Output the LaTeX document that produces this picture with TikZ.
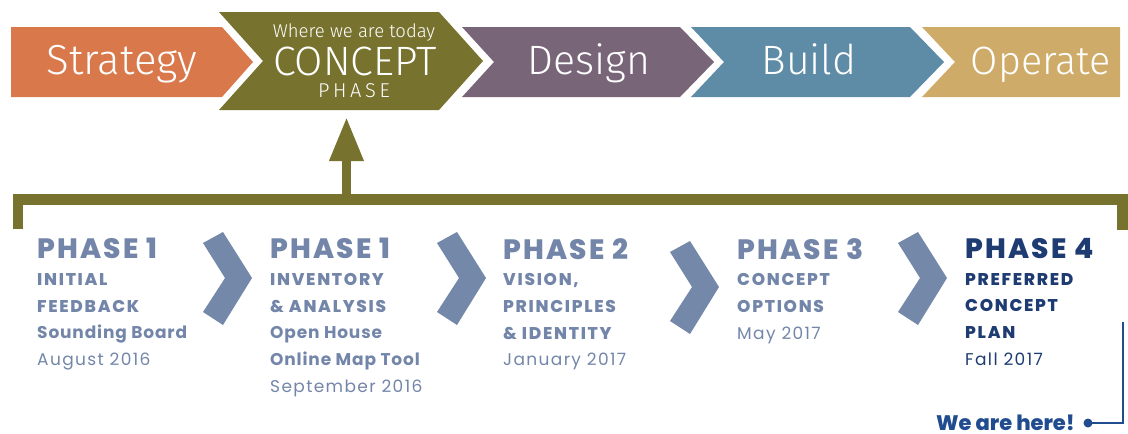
\documentclass[tikz,border=0pt]{standalone}
\usepackage{fontspec}
\setmainfont{Poppins}
\newfontfamily\thinfont{Fira Sans Light}
\newfontfamily\heavyfont{Poppins ExtraBold}
\newfontfamily\boldfont{Poppins Bold}
\newfontfamily\datefont{Poppins}
\usetikzlibrary{arrows.meta}
\definecolor{stratorange}{HTML}{D9784B}
\definecolor{conceptolive}{HTML}{78722F}
\definecolor{designpurple}{HTML}{786678}
\definecolor{buildblue}{HTML}{5E8CA7}
\definecolor{operatetan}{HTML}{CFAB69}
\definecolor{chevblue}{HTML}{7488AA}
\definecolor{phaseblue}{HTML}{7386A9}
\definecolor{phasenavy}{HTML}{1E3C72}
\definecolor{herenavy}{HTML}{214C8F}
\newcommand\phasehead[1]{{\heavyfont\fontsize{28}{28}\selectfont\addfontfeatures{LetterSpace=8}#1}}
\newcommand\capline[1]{{\heavyfont\addfontfeatures{LetterSpace=10}#1}}
\newcommand\boldline[1]{{\boldfont\addfontfeatures{LetterSpace=5}#1}}
\newcommand\dateline[1]{{\datefont\addfontfeatures{LetterSpace=8}#1}}
\begin{document}
\begin{tikzpicture}[x=1pt,y=-1pt,
  banner/.style={anchor=base,inner sep=0pt,text=white,font=\thinfont\fontsize{41}{41}\selectfont},
  phasecol/.style={anchor=north west,align=left,inner sep=0pt,text=phaseblue,font=\fontsize{17}{26.7}\selectfont},
  chev/.style={fill=chevblue}]
\useasboundingbox (0,0) rectangle (1128,434);
% top banner
\fill[stratorange] (11,27) -- (222,27) -- (253,62) -- (222,97) -- (11,97) -- cycle;
\fill[conceptolive] (219,12) -- (439,12) -- (483,61) -- (439,110) -- (219,110) -- (263,61) -- cycle;
\fill[designpurple] (462,27) -- (680,27) -- (714,62) -- (680,97) -- (462,97) -- (494,62) -- cycle;
\fill[buildblue] (691,27) -- (910,27) -- (944,62) -- (910,97) -- (691,97) -- (724,62) -- cycle;
\fill[operatetan] (922,27) -- (1120,27) -- (1120,97) -- (922,97) -- (955,62) -- cycle;
\node[banner,font=\thinfont\fontsize{42}{42}\selectfont] (strat) at (122,74) {Strategy};
\node[banner,font=\thinfont\fontsize{18.5}{18.5}\selectfont] (today) at (354,37) {Where we are today};
\node[banner] (concept) at (355,75) {CONCEPT};
\node[banner,font=\thinfont\fontsize{20}{20}\selectfont\addfontfeatures{LetterSpace=18}] (conphase) at (354,97) {PHASE};
\node[banner] (design) at (589,74) {Design};
\node[banner] (build) at (809,74) {Build};
\node[banner,font=\thinfont\fontsize{39.5}{39.5}\selectfont] (operate) at (1041,74) {Operate};
% bracket and arrow up to the concept phase
\coordinate (bktop) at (346.5,199.5);
\coordinate (cbot) at (346.5,110);
\draw[conceptolive, line width=10.5] (18,229) -- (18,199.5) -- (1122.5,199.5) -- (1122.5,230);
\draw[conceptolive, line width=9.5, -{Triangle[width=32pt,length=44pt]}, shorten >=7pt] (bktop) -- (cbot);
% chevrons between phases
\foreach \dx/\dy in {0/0, 234/0, 467/9, 695/0}
  \fill[chev, shift={(\dx,\dy)}] (203,243) -- (223,232) -- (252,278) -- (223,325) -- (203,312) -- (225,278) -- cycle;
% phases
\node[phasecol] (ph1) at (37,238) {\phasehead{PHASE 1}\\\capline{INITIAL}\\\capline{FEEDBACK}\\\boldline{Sounding Board}\\\dateline{August 2016}};
\node[phasecol] (ph1b) at (270,238) {\phasehead{PHASE 1}\\\capline{INVENTORY}\\\capline{\& ANALYSIS}\\\boldline{Open House}\\\boldline{Online Map Tool}\\\dateline{September 2016}};
\node[phasecol] (ph2) at (503,238) {\phasehead{PHASE 2}\\\capline{VISION,}\\\capline{PRINCIPLES}\\\capline{\& IDENTITY}\\\dateline{January 2017}};
\node[phasecol] (ph3) at (737,238) {\phasehead{PHASE 3}\\\capline{CONCEPT}\\\capline{OPTIONS}\\\dateline{May 2017}};
\node[phasecol,text=phasenavy] (ph4) at (965,238) {\phasehead{PHASE 4}\\\capline{PREFERRED}\\\capline{CONCEPT}\\\capline{PLAN}\\\dateline{Fall 2017}};
% we are here
\node[anchor=base east,inner sep=0pt,text=herenavy,font=\heavyfont\fontsize{21}{21}\selectfont] (here) at (1075,430) {We are here!};
\coordinate (hereend) at (1123,322);
\node[circle,fill=herenavy,inner sep=0pt,minimum size=9pt] (dot) at (1088,423) {};
\draw[herenavy, line width=2.2] (dot.center) -| (hereend);
\end{tikzpicture}
\end{document}
